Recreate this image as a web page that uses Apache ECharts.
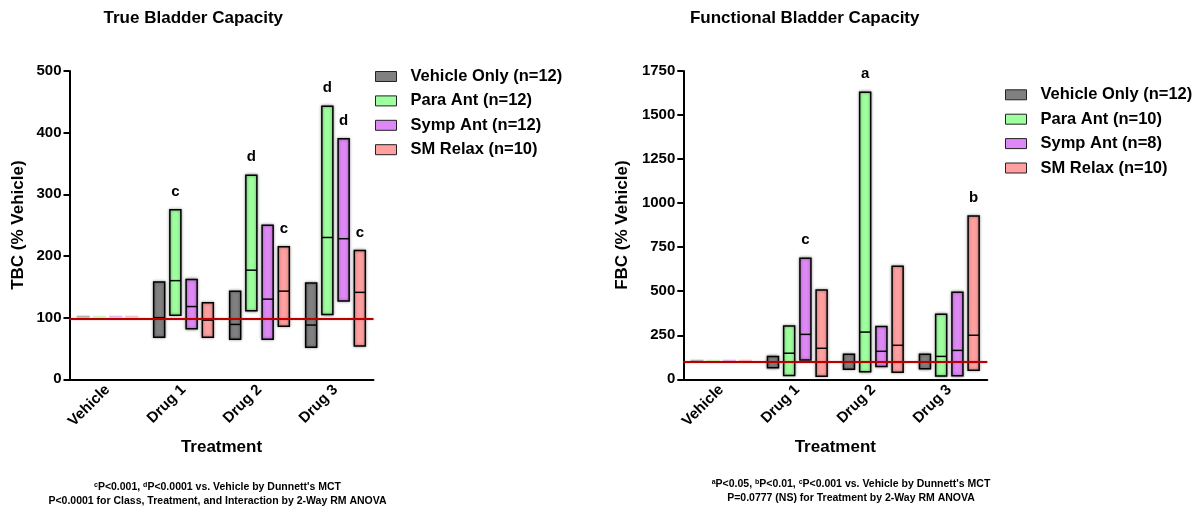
<!DOCTYPE html>
<html><head><meta charset="utf-8">
<script src="https://cdn.jsdelivr.net/npm/echarts@6/dist/echarts.min.js"></script>
<style>html,body{margin:0;padding:0;background:#fff}#c{width:1200px;height:508px}</style>
</head><body><div id="c"></div>
<script>
// ---------- data ----------
const categories = ['Vehicle', 'Drug 1', 'Drug 2', 'Drug 3'];
const namesTBC = ['Vehicle Only (n=12)', 'Para Ant (n=12)', 'Symp Ant (n=12)', 'SM Relax (n=10)'];
const namesFBC = ['Vehicle Only (n=12)', 'Para Ant (n=10)', 'Symp Ant (n=8)', 'SM Relax (n=10)'];

// each entry: [low, median, high] per category
const tbcVehicleOnly = [[100, 100, 100], [68, 100, 158], [65, 89, 143], [52, 88, 156]];
const tbcParaAnt     = [[100, 100, 100], [104, 160, 275], [111, 177, 331], [105, 230, 443]];
const tbcSympAnt     = [[100, 100, 100], [82, 118, 162], [65, 130, 250], [127, 228, 390]];
const tbcSMRelax     = [[100, 100, 100], [68, 96, 124], [86, 143, 215], [54, 141, 209]];
const tbcSigVehicle  = ['', '', '', ''];
const tbcSigPara     = ['', 'c', 'd', 'd'];
const tbcSigSymp     = ['', '', '', 'd'];
const tbcSigSM       = ['', '', 'c', 'c'];

const fbcVehicleOnly = [[100, 100, 100], [66, 99, 130], [57, 99, 142], [60, 99, 142]];
const fbcParaAnt     = [[100, 100, 100], [22, 148, 302], [43, 268, 1629], [19, 130, 369]];
const fbcSympAnt     = [[100, 100, 100], [110, 255, 687], [72, 159, 299], [20, 164, 494]];
const fbcSMRelax     = [[100, 100, 100], [17, 176, 507], [40, 193, 641], [51, 250, 927]];
const fbcSigVehicle  = ['', '', '', ''];
const fbcSigPara     = ['', '', 'a', ''];
const fbcSigSymp     = ['', 'c', '', ''];
const fbcSigSM       = ['', '', '', 'b'];

const tbcAxis = [0, 500, 100];   // min, max, interval
const fbcAxis = [0, 1750, 250];
const vehicleBaseline = 99;

const footTBC1 = '{sup|c}P<0.001, {sup|d}P<0.0001 vs. Vehicle by Dunnett\'s MCT';
const footTBC2 = 'P<0.0001 for Class, Treatment, and Interaction by 2-Way RM ANOVA';
const footFBC1 = '{sup|a}P<0.05, {sup|b}P<0.01, {sup|c}P<0.001 vs. Vehicle by Dunnett\'s MCT';
const footFBC2 = 'P=0.0777 (NS) for Treatment by 2-Way RM ANOVA';

// ---------- style ----------
const FONT = '"Liberation Sans", Arial, sans-serif';
const COLORS = ['#808080', '#9dff9d', '#de88f5', '#ff9f9f'];
const BAR_FRAC = 0.145;
const OFFSETS = [-0.32, -0.107, 0.107, 0.32];

function toData(arr) { return arr.map((v, i) => [i, v[0], v[1], v[2]]); }

function makeRender(k, color, sig) {
  return function (params, api) {
    const ci = api.value(0), lo = api.value(1), md = api.value(2), hi = api.value(3);
    const band = api.size([1, 0])[0];
    const pl = api.coord([ci, lo]), pm = api.coord([ci, md]), ph = api.coord([ci, hi]);
    const w = band * BAR_FRAC, cx = pl[0] + band * OFFSETS[k];
    const children = [];
    if (hi - lo < 1e-9) {
      children.push({type: 'line', shape: {x1: cx - w / 2 - 1, y1: pl[1] - 1, x2: cx + w / 2 + 1, y2: pl[1] - 1},
        style: {stroke: color, lineWidth: 2, opacity: 0.6}});
    } else {
      children.push({type: 'rect', shape: {x: cx - w / 2, y: ph[1], width: w, height: pl[1] - ph[1]},
        style: {fill: color, stroke: '#000', lineWidth: 1.5, shadowBlur: 3, shadowColor: 'rgba(0,0,0,0.45)'}});
      children.push({type: 'line', shape: {x1: cx - w / 2, y1: pm[1], x2: cx + w / 2, y2: pm[1]},
        style: {stroke: '#000', lineWidth: 1.5}});
    }
    const s = sig[params.dataIndex];
    if (s) {
      children.push({type: 'text', style: {text: s, x: cx, y: ph[1] - 18,
        align: 'center', verticalAlign: 'middle', textAlign: 'center', textVerticalAlign: 'middle',
        font: 'bold 15px ' + FONT, fill: '#000'}});
    }
    return {type: 'group', children: children};
  };
}

function buildSeries(gi, names, datasets, sigs) {
  return datasets.map((d, k) => {
    const s = {
      type: 'custom', name: names[k], xAxisIndex: gi, yAxisIndex: gi,
      itemStyle: {color: COLORS[k], borderColor: '#000', borderWidth: 1},
      encode: {x: 0, y: [1, 3]},
      renderItem: makeRender(k, COLORS[k], sigs[k]),
      data: toData(d)
    };
    if (k === 0) {
      s.markLine = {
        silent: true, symbol: ['none', 'none'], z: 10, animation: false,
        label: {show: false},
        lineStyle: {color: '#b80000', width: 2, type: 'solid', shadowBlur: 2, shadowColor: 'rgba(180,0,0,0.35)'},
        data: [{yAxis: vehicleBaseline}]
      };
    }
    return s;
  });
}

function xAxisOpt(gi) {
  return {
    type: 'category', gridIndex: gi, data: categories, boundaryGap: true,
    axisLine: {lineStyle: {color: '#000', width: 2}},
    axisTick: {alignWithLabel: true, length: 6, lineStyle: {color: '#000', width: 2}},
    axisLabel: {rotate: 45, interval: 0, margin: 8, color: '#000', fontSize: 15, fontWeight: 'bold', fontFamily: FONT},
    name: 'Treatment', nameLocation: 'middle', nameGap: 60,
    nameTextStyle: {color: '#000', fontSize: 17, fontWeight: 'bold', fontFamily: FONT}
  };
}
function yAxisOpt(gi, ax, name, gap) {
  return {
    type: 'value', gridIndex: gi, min: ax[0], max: ax[1], interval: ax[2],
    splitLine: {show: false},
    axisLine: {show: true, lineStyle: {color: '#000', width: 2}},
    axisTick: {show: true, length: 6, lineStyle: {color: '#000', width: 2}},
    axisLabel: {margin: 8, color: '#000', fontSize: 15, fontWeight: 'bold', fontFamily: FONT,
      formatter: function (v) { return String(v); }},
    name: name, nameLocation: 'middle', nameGap: gap,
    nameTextStyle: {color: '#000', fontSize: 17, fontWeight: 'bold', fontFamily: FONT}
  };
}
function legendOpt(left, top, names) {
  return {
    orient: 'vertical', left: left, top: top, padding: 0, itemGap: 7.4,
    itemWidth: 21, itemHeight: 10, icon: 'rect', selectedMode: false, data: names,
    itemStyle: {borderColor: '#222', borderWidth: 1},
    textStyle: {color: '#000', fontSize: 16.5, fontWeight: 'bold', fontFamily: FONT, lineHeight: 16, padding: [0, 0, 0, 9]}
  };
}
function textEl(x, y, text, size, weight, rich) {
  const st = {text: text, x: x, y: y, align: 'center', verticalAlign: 'middle',
    textAlign: 'center', textVerticalAlign: 'middle',
    font: weight + ' ' + size + 'px ' + FONT, fill: '#000'};
  if (rich) st.rich = rich;
  return {type: 'text', style: st, z: 20};
}
const supRich = {sup: {fontSize: 7, fontWeight: 'bold', fontFamily: FONT, verticalAlign: 'top', lineHeight: 8, fill: '#000', color: '#000'}};

const option = {
  backgroundColor: '#fff',
  animation: false,
  textStyle: {fontFamily: FONT},
  grid: [
    {left: 69.5, top: 71, width: 304, height: 308.3},
    {left: 683.3, top: 71, width: 304, height: 308.3}
  ],
  xAxis: [xAxisOpt(0), xAxisOpt(1)],
  yAxis: [yAxisOpt(0, tbcAxis, 'TBC (% Vehicle)', 43), yAxisOpt(1, fbcAxis, 'FBC (% Vehicle)', 52)],
  legend: [legendOpt(375, 68, namesTBC), legendOpt(1005, 86.3, namesFBC)],
  series: [].concat(
    buildSeries(0, namesTBC, [tbcVehicleOnly, tbcParaAnt, tbcSympAnt, tbcSMRelax], [tbcSigVehicle, tbcSigPara, tbcSigSymp, tbcSigSM]),
    buildSeries(1, namesFBC, [fbcVehicleOnly, fbcParaAnt, fbcSympAnt, fbcSMRelax], [fbcSigVehicle, fbcSigPara, fbcSigSymp, fbcSigSM])
  ),
  graphic: [
    textEl(193.3, 18.5, 'True Bladder Capacity', 17, 'bold'),
    textEl(804.7, 18.5, 'Functional Bladder Capacity', 17, 'bold'),
    textEl(217.5, 486.7, footTBC1, 10.5, 'bold', supRich),
    textEl(217.5, 500.7, footTBC2, 10.5, 'bold'),
    textEl(851, 484, footFBC1, 10.5, 'bold', supRich),
    textEl(851, 498.3, footFBC2, 10.5, 'bold')
  ]
};
const chart = echarts.init(document.getElementById('c'), null, {renderer: 'canvas'});
chart.setOption(option);
</script>
</body></html>
